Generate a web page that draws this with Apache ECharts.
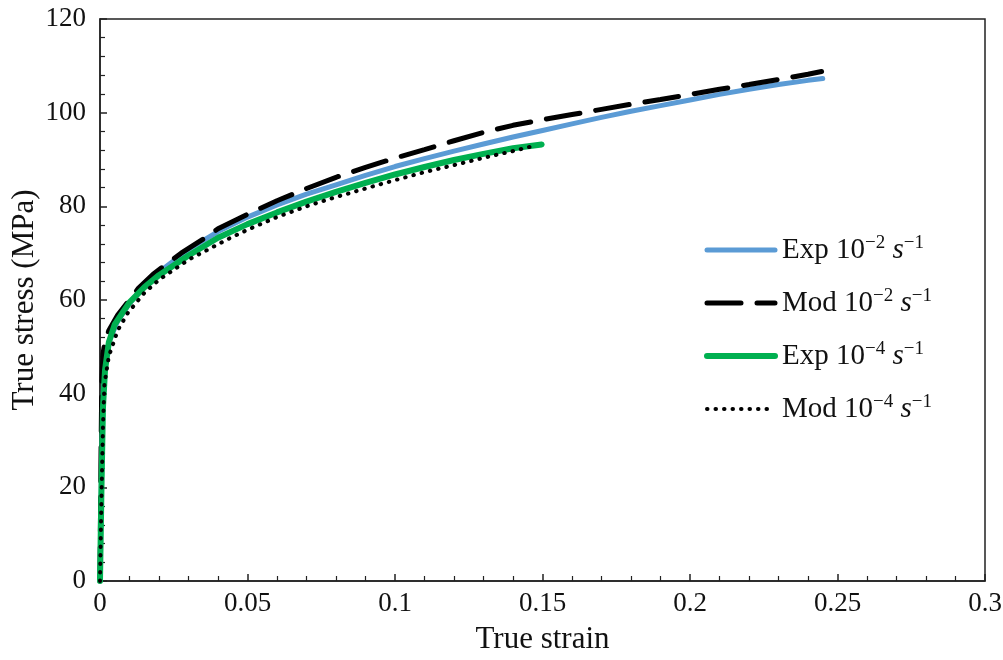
<!DOCTYPE html>
<html>
<head>
<meta charset="utf-8">
<script src="https://cdn.jsdelivr.net/npm/echarts@6/dist/echarts.min.js"></script>
<style>
  html, body { margin: 0; padding: 0; background: #fff; }
  #chart { width: 1003px; height: 660px; }
</style>
</head>
<body>
<div id="chart"></div>
<script>
// [true strain, true stress (MPa)]
const expFast = [
  [0, 0], [0.0004, 18], [0.0008, 32], [0.0012, 42], [0.0018, 47], [0.003, 51], [0.006, 55.5],
  [0.01, 59.3], [0.015, 63], [0.02, 66], [0.03, 70.8], [0.04, 74.6], [0.05, 77.7],
  [0.06, 80.3], [0.07, 82.6], [0.08, 84.6], [0.09, 86.6], [0.1, 88.5], [0.11, 90.2],
  [0.12, 91.8], [0.13, 93.3], [0.14, 94.8], [0.15, 96.2], [0.16, 97.6], [0.17, 99.0],
  [0.18, 100.3], [0.19, 101.5], [0.2, 102.7], [0.21, 103.9], [0.22, 105.0],
  [0.23, 106.0], [0.24, 106.9], [0.245, 107.3]
];
const modFast = [
  [0, 0], [0.0003, 25], [0.0006, 42], [0.001, 48.5], [0.0018, 51.5], [0.003, 53.5],
  [0.006, 56.8], [0.01, 60], [0.013, 62.5], [0.018, 65.5], [0.0275, 70], [0.035, 73],
  [0.04, 75.2], [0.05, 78.3], [0.06, 81.2], [0.07, 83.8], [0.08, 86.2], [0.09, 88.3],
  [0.1, 90.3], [0.11, 92.1], [0.12, 94.0], [0.13, 95.8], [0.14, 97.3], [0.15, 98.5],
  [0.16, 99.6], [0.17, 100.7], [0.18, 101.8], [0.19, 102.8], [0.2, 103.9], [0.21, 105.0],
  [0.22, 106.0], [0.23, 107.1], [0.24, 108.2], [0.2446, 108.8]
];
const expSlow = [
  [0, 0], [0.0005, 20], [0.001, 37], [0.0017, 45], [0.003, 51], [0.005, 54.8],
  [0.01, 59.5], [0.015, 62.7], [0.02, 65.3], [0.03, 69.5], [0.04, 73.3], [0.05, 76.2],
  [0.06, 78.7], [0.07, 81.0], [0.08, 83.1], [0.09, 85.0], [0.1, 86.8], [0.11, 88.4],
  [0.12, 89.9], [0.13, 91.2], [0.14, 92.4], [0.1497, 93.2]
];
const modSlow = [
  [0, 0], [0.0005, 18], [0.001, 33], [0.0015, 42], [0.003, 48], [0.006, 53.5],
  [0.0095, 57.3], [0.015, 61.5], [0.02, 64.3], [0.03, 68.6], [0.044, 73.2], [0.05, 75],
  [0.06, 77.7], [0.07, 80], [0.078, 81.6], [0.09, 83.8], [0.1, 85.6], [0.11, 87.3],
  [0.12, 88.8], [0.131, 90.5], [0.14, 91.8], [0.147, 92.9]
];
const seriesNames = ['Exp 10^-2', 'Mod 10^-2', 'Exp 10^-4', 'Mod 10^-4'];
const legendLabels = {
  'Exp 10^-2': 'Exp 10{sup|−2} {it|s}{sup|−1}',
  'Mod 10^-2': 'Mod 10{sup|−2} {it|s}{sup|−1}',
  'Exp 10^-4': 'Exp 10{sup|−4} {it|s}{sup|−1}',
  'Mod 10^-4': 'Mod 10{sup|−4} {it|s}{sup|−1}'
};

const font = '"Liberation Serif", "DejaVu Serif", serif';
const chart = echarts.init(document.getElementById('chart'));

const lineStyles = [
  { color: '#5B9BD5', width: 5, cap: 'round' },
  { color: '#000', width: 5, type: [34, 16], cap: 'round' },
  { color: '#00B050', width: 6, cap: 'round' },
  { color: '#000', width: 4, type: [0.5, 8], cap: 'round' }
];
const seriesData = [expFast, modFast, expSlow, modSlow];

const axisCommon = {
  axisLine: { show: true, lineStyle: { color: '#222', width: 1.5 } },
  axisTick: { show: true, inside: true, length: 7, lineStyle: { color: '#222', width: 1.5 } },
  minorTick: { show: true, splitNumber: 5, length: 5, lineStyle: { color: '#222', width: 1.2 } },
  splitLine: { show: false },
  nameMoveOverlap: false,
  nameTextStyle: { color: '#111', fontFamily: font, fontSize: 31 }
};

chart.setOption({
  animation: false,
  textStyle: { fontFamily: font },
  grid: {
    left: 100, right: 18, top: 19, bottom: 79,
    containLabel: false, outerBoundsMode: 'none',
    show: true, borderColor: '#222', borderWidth: 1.5, backgroundColor: 'transparent'
  },
  xAxis: Object.assign({}, axisCommon, {
    type: 'value', min: 0, max: 0.3, interval: 0.05,
    name: 'True strain', nameLocation: 'middle', nameGap: 43,
    axisLabel: { color: '#111', fontFamily: font, fontSize: 27, margin: 9 }
  }),
  yAxis: Object.assign({}, axisCommon, {
    type: 'value', min: 0, max: 120, interval: 20,
    name: 'True stress (MPa)', nameLocation: 'middle', nameGap: 60,
    axisLabel: { color: '#111', fontFamily: font, fontSize: 27, margin: 14 }
  }),
  legend: {
    orient: 'vertical', left: 699, top: 229,
    itemWidth: 68, itemHeight: 24, itemGap: 20,
    data: seriesNames.map((name, i) => ({
      name,
      itemStyle: { opacity: 0 },
      lineStyle: lineStyles[i]
    })),
    formatter: (name) => legendLabels[name],
    textStyle: {
      color: '#111', fontFamily: font, fontSize: 29, lineHeight: 32, padding: [0, 0, 0, 2],
      rich: {
        sup: { fontSize: 19, fontFamily: font, color: '#111', verticalAlign: 'top', lineHeight: 32, padding: [0, 0, 14, 0] },
        it: { fontSize: 29, fontFamily: font, fontStyle: 'italic', color: '#111', lineHeight: 32 }
      }
    }
  },
  series: seriesNames.map((name, i) => ({
    name,
    type: 'line',
    data: seriesData[i],
    showSymbol: false,
    symbol: 'none',
    lineStyle: lineStyles[i],
    itemStyle: { color: lineStyles[i].color },
    z: 2 + i
  }))
});

window.addEventListener('resize', chart.resize);
</script>
</body>
</html>
